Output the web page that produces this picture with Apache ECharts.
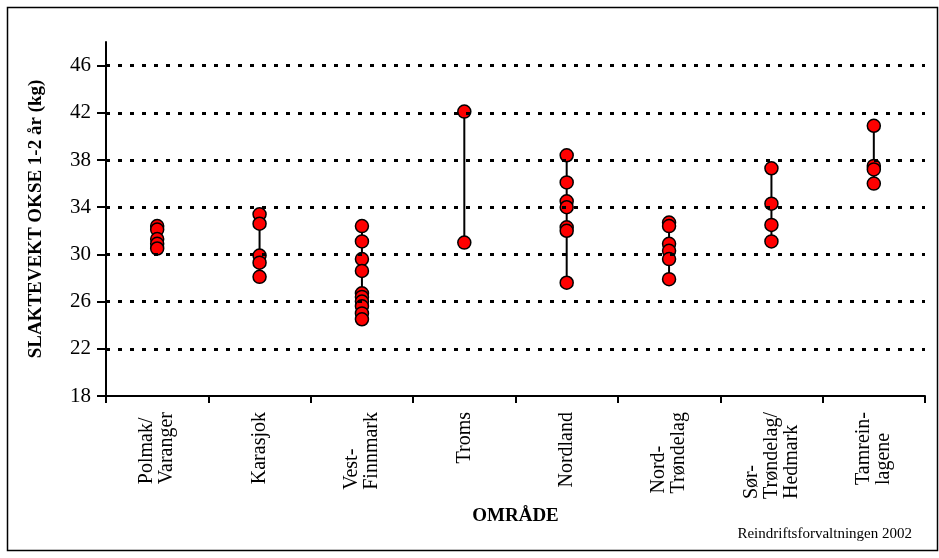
<!DOCTYPE html>
<html>
<head>
<meta charset="utf-8">
<script src="https://cdn.jsdelivr.net/npm/echarts@6/dist/echarts.min.js"></script>
<style>
html,body{margin:0;padding:0;background:#fff;}
#chart{width:939px;height:558px;}
</style>
</head>
<body>
<div id="chart"></div>
<script>
// ---- data ----
const categories = ['Polmak/\nVaranger', 'Karasjok', 'Vest-\nFinnmark', 'Troms', 'Nordland', 'Nord-\nTrøndelag', 'Sør-\nTrøndelag/\nHedmark', 'Tamrein-\nlagene'];
const polmakVaranger = [32.4, 32.1, 31.3, 30.9, 30.5];
const karasjok = [33.4, 32.6, 29.9, 29.3, 28.1];
const vestFinnmark = [32.4, 31.1, 29.6, 28.6, 26.7, 26.4, 26.0, 25.6, 25.0, 24.5];
const troms = [42.1, 31.0];
const nordland = [38.4, 36.1, 34.5, 34.0, 32.3, 32.0, 27.6];
const nordTrondelag = [32.7, 32.4, 30.9, 30.3, 29.6, 27.9];
const sorTrondelagHedmark = [37.3, 34.3, 32.5, 31.1];
const tamreinlagene = [40.9, 37.5, 37.2, 36.0];
const yTicks = [18, 22, 26, 30, 34, 38, 42, 46];
const gridValues = [22, 26, 30, 34, 38, 42, 46];
const yMin = 18, yMax = 48, yInterval = 4;

const groups = [polmakVaranger, karasjok, vestFinnmark, troms, nordland, nordTrondelag, sorTrondelagHedmark, tamreinlagene];

const scatterData = [];
groups.forEach((g, i) => g.forEach(v => scatterData.push([i, v])));
const rangeData = groups.map((g, i) => [i, Math.min(...g), Math.max(...g)]);

const serif = '"Liberation Serif", "Times New Roman", serif';

const chart = echarts.init(document.getElementById('chart'), null, {renderer: 'canvas'});
chart.setOption({
  backgroundColor: '#fff',
  animation: false,
  grid: {left: 106, right: 14, top: 42, bottom: 162, containLabel: false},
  xAxis: {
    type: 'category',
    data: categories,
    boundaryGap: true,
    name: 'OMRÅDE',
    nameLocation: 'middle',
    nameGap: 111,
    nameTextStyle: {fontFamily: serif, fontWeight: 'bold', fontSize: 19, color: '#000'},
    axisLine: {lineStyle: {color: '#000', width: 2}},
    axisTick: {show: true, length: 7, lineStyle: {color: '#000', width: 2}},
    axisLabel: {
      rotate: 90,
      margin: 16,
      interval: 0,
      color: '#000',
      fontFamily: serif,
      fontSize: 20,
      formatter: function (val) {
        return val.split('\n').map(s => '{l|' + s + '}').join('\n');
      },
      rich: {
        l: {align: 'left', fontFamily: serif, fontSize: 20, lineHeight: 20, color: '#000'}
      }
    },
    splitLine: {show: false}
  },
  yAxis: {
    type: 'value',
    min: yMin,
    max: yMax,
    interval: yInterval,
    name: 'SLAKTEVEKT OKSE 1-2 år (kg)',
    nameLocation: 'middle',
    nameGap: 60,
    nameTextStyle: {fontFamily: serif, fontWeight: 'bold', fontSize: 19, color: '#000'},
    axisLine: {show: true, lineStyle: {color: '#000', width: 2}},
    axisTick: {show: true, length: 9, customValues: yTicks, lineStyle: {color: '#000', width: 2}},
    axisLabel: {
      customValues: yTicks,
      margin: 15,
      color: '#000',
      fontFamily: serif,
      fontSize: 21
    },
    splitLine: {show: false}
  },
  series: [
    {
      type: 'custom',
      silent: true,
      z: 2,
      data: rangeData,
      encode: {x: 0, y: [1, 2]},
      renderItem: function (params, api) {
        const p1 = api.coord([api.value(0), api.value(1)]);
        const p2 = api.coord([api.value(0), api.value(2)]);
        return {
          type: 'line',
          shape: {x1: p1[0], y1: p1[1], x2: p2[0], y2: p2[1]},
          style: {stroke: '#000', lineWidth: 2}
        };
      }
    },
    {
      type: 'scatter',
      z: 3,
      symbol: 'circle',
      symbolSize: 13,
      data: scatterData,
      itemStyle: {color: '#FF0000', borderColor: '#000', borderWidth: 1.5, opacity: 1},
      markLine: {
        silent: true,
        symbol: ['none', 'none'],
        label: {show: false},
        lineStyle: {color: '#000', width: 3, type: [4, 8]},
        data: gridValues.map(v => ({yAxis: v}))
      }
    }
  ],
  graphic: [
    {
      type: 'rect',
      silent: true,
      shape: {x: 7.5, y: 7.5, width: 930, height: 543},
      style: {fill: 'none', stroke: '#000', lineWidth: 1.5}
    },
    {
      type: 'text',
      right: 27,
      top: 527,
      style: {text: 'Reindriftsforvaltningen 2002', fontFamily: serif, fontSize: 15, fill: '#000'}
    }
  ]
});
</script>
</body>
</html>
